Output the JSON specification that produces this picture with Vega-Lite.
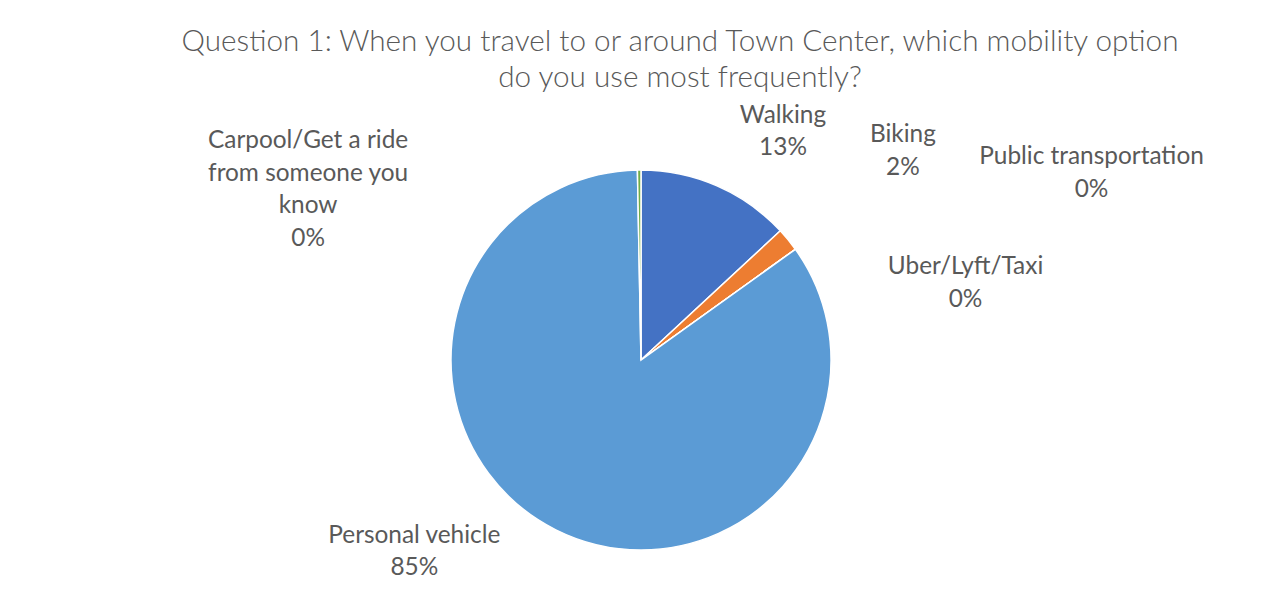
{
  "$schema": "https://vega.github.io/schema/vega-lite/v6.json",
  "autosize": {"type": "none"},
  "width": 1258,
  "height": 502,
  "padding": {"left": 12, "top": 109, "right": 0, "bottom": 0},
  "background": "white",
  "view": {"stroke": null},
  "title": {
    "text": ["Question 1: When you travel to or around Town Center, which mobility option", "do you use most frequently?"],
    "font": "Lato",
    "fontWeight": 300,
    "fontSize": 29.7,
    "color": "#595959",
    "lineHeight": 36,
    "anchor": "middle",
    "dx": 39,
    "offset": 9
  },
  "data": {
    "values": [
      {"i": 1, "category": "Walking", "label": "Walking", "value": 13.1},
      {"i": 2, "category": "Biking", "label": "Biking", "value": 2.0},
      {"i": 3, "category": "Public transportation", "label": "Public transportation", "value": 0},
      {"i": 4, "category": "Uber/Lyft/Taxi", "label": "Uber/Lyft/Taxi", "value": 0},
      {"i": 5, "category": "Personal vehicle", "label": "Personal vehicle", "value": 84.6},
      {"i": 6, "category": "Carpool/Get a ride from someone you know", "label": "Carpool/Get a ride\nfrom someone you\nknow", "value": 0.3}
    ]
  },
  "transform": [
    {"stack": "value", "groupby": [], "sort": [{"field": "i", "order": "ascending"}], "offset": "normalize", "as": ["v0", "v1"]},
    {"calculate": "(datum.v0 + datum.v1) / 2", "as": "mid"},
    {"calculate": "datum.label + '\\n' + format(datum.value / 100, '.0%')", "as": "text"}
  ],
  "layer": [
    {
      "mark": {"type": "arc", "outerRadius": 190, "stroke": "white", "strokeWidth": 1.5},
      "encoding": {
        "theta": {"field": "v0", "type": "quantitative", "scale": {"domain": [0, 1]}},
        "theta2": {"field": "v1"},
        "color": {
          "field": "category",
          "type": "nominal",
          "legend": null,
          "scale": {
            "domain": ["Walking", "Biking", "Public transportation", "Uber/Lyft/Taxi", "Personal vehicle", "Carpool/Get a ride from someone you know"],
            "range": ["#4472C4", "#ED7D31", "#A5A5A5", "#FFC000", "#5B9BD5", "#70AD47"]
          }
        }
      }
    },
    {
      "transform": [{"filter": "datum.category == 'Walking'"}],
      "mark": {"type": "text", "radius": 200, "dx": 62, "dy": -61, "font": "Lato", "fontSize": 24.4, "color": "#595959", "lineHeight": 32.5, "lineBreak": "\n", "align": "center", "baseline": "middle"},
      "encoding": {"theta": {"field": "mid", "type": "quantitative"}, "text": {"field": "text"}}
    },
    {
      "transform": [{"filter": "datum.category == 'Biking'"}],
      "mark": {"type": "text", "radius": 200, "dx": 107, "dy": -98, "font": "Lato", "fontSize": 24.4, "color": "#595959", "lineHeight": 32.5, "lineBreak": "\n", "align": "center", "baseline": "middle"},
      "encoding": {"theta": {"field": "mid", "type": "quantitative"}, "text": {"field": "text"}}
    },
    {
      "transform": [{"filter": "datum.category == 'Public transportation'"}],
      "mark": {"type": "text", "radius": 200, "dx": 288, "dy": -86, "font": "Lato", "fontSize": 24.4, "color": "#595959", "lineHeight": 32.5, "lineBreak": "\n", "align": "center", "baseline": "middle"},
      "encoding": {"theta": {"field": "mid", "type": "quantitative"}, "text": {"field": "text"}}
    },
    {
      "transform": [{"filter": "datum.category == 'Uber/Lyft/Taxi'"}],
      "mark": {"type": "text", "radius": 200, "dx": 162, "dy": 24, "font": "Lato", "fontSize": 24.4, "color": "#595959", "lineHeight": 32.5, "lineBreak": "\n", "align": "center", "baseline": "middle"},
      "encoding": {"theta": {"field": "mid", "type": "quantitative"}, "text": {"field": "text"}}
    },
    {
      "transform": [{"filter": "datum.category == 'Personal vehicle'"}],
      "mark": {"type": "text", "radius": 200, "dx": -137, "dy": -3, "font": "Lato", "fontSize": 24.4, "color": "#595959", "lineHeight": 32.5, "lineBreak": "\n", "align": "center", "baseline": "middle"},
      "encoding": {"theta": {"field": "mid", "type": "quantitative"}, "text": {"field": "text"}}
    },
    {
      "transform": [{"filter": "datum.i == 6"}],
      "mark": {"type": "text", "radius": 200, "dx": -331, "dy": -19, "font": "Lato", "fontSize": 24.4, "color": "#595959", "lineHeight": 32.5, "lineBreak": "\n", "align": "center", "baseline": "middle"},
      "encoding": {"theta": {"field": "mid", "type": "quantitative"}, "text": {"field": "text"}}
    }
  ]
}
